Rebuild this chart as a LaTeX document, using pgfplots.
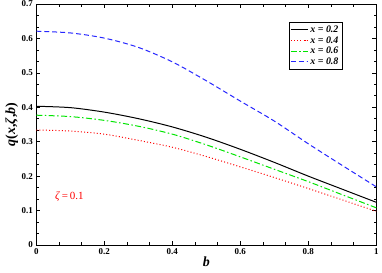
\documentclass[border=0pt]{standalone}
\usepackage{fontspec}
\setmainfont{Liberation Serif}
\usepackage{pgfplots}
\pgfplotsset{compat=1.18}
\usepackage{pgfplotstable}
\pgfplotstableread{
b q
0.0 0.403
0.1 0.399
0.2 0.386
0.3 0.367
0.4 0.343
0.5 0.313
0.6 0.278
0.7 0.240
0.8 0.200
0.9 0.162
1.0 0.124
}\xa
\pgfplotstableread{
b q
0.0 0.334
0.1 0.331
0.2 0.322
0.3 0.304
0.4 0.284
0.5 0.257
0.6 0.227
0.7 0.196
0.8 0.164
0.9 0.131
1.0 0.098
}\xb
\pgfplotstableread{
b q
0.0 0.377
0.1 0.373
0.2 0.362
0.3 0.345
0.4 0.322
0.5 0.291
0.6 0.256
0.7 0.220
0.8 0.184
0.9 0.146
1.0 0.108
}\xc
\pgfplotstableread{
b q
0.0 0.621
0.1 0.616
0.2 0.601
0.3 0.574
0.4 0.532
0.5 0.477
0.6 0.418
0.7 0.360
0.8 0.294
0.9 0.231
1.0 0.169
}\xd
\begin{document}
\begin{tikzpicture}
\useasboundingbox (-36.3bp,-28bp) rectangle (345.7bp,245bp);
\begin{axis}[
  at={(0,0)}, anchor=south west,
  scale only axis, width=340bp, height=241bp,
  xmin=0, xmax=1, ymin=0, ymax=0.7,
  xtick={0,0.2,...,1}, ytick={0,0.1,...,0.7},
  minor x tick num=2, minor y tick num=2,
  tick align=inside, major tick length=4bp, minor tick length=2.5bp,
  axis line style={line width=1pt},
  every tick/.style={black, line width=0.7pt},
  /pgf/number format/assume math mode=true,
  tick label style={font=\fontsize{9}{10}\selectfont\bfseries},
  xticklabels={0,0.2,0.4,0.6,0.8,1},
  yticklabels={0,0.1,0.2,0.3,0.4,0.5,0.6,0.7},
  xlabel={\textbf{\textit{b}}},
  ylabel={\textbf{\textit{q}(\textit{x},\textit{ζ},\textit{b})}},
  label style={font=\fontsize{14}{15}\selectfont},
  xlabel style={at={(axis description cs:0.5,-0.07)}, anchor=center},
  ylabel style={at={(axis description cs:-0.072,0.5)}, anchor=center},
  legend style={at={(0.9,0.925)}, anchor=north east, draw=black, line width=0.7pt,
    font=\fontsize{10}{11}\selectfont\bfseries\itshape, inner sep=1.5pt, row sep=-1.5pt},
  legend cell align=left,
]
\addplot[black, line width=1pt, smooth] table[x=b,y=q] {\xa};
\addlegendentry{x = 0.2}
\addplot[red, line width=1pt, dash pattern=on 1pt off 2.2pt, smooth] table[x=b,y=q] {\xb};
\addlegendentry{x = 0.4}
\addplot[green!90!black, line width=1pt, dash pattern=on 6pt off 2.5pt on 1.5pt off 2.5pt, smooth] table[x=b,y=q] {\xc};
\addlegendentry{x = 0.6}
\addplot[blue!85!white, line width=1pt, dash pattern=on 5pt off 3pt, smooth] table[x=b,y=q] {\xd};
\addlegendentry{x = 0.8}
\node[red, font=\fontsize{11}{12}\selectfont, anchor=west] at (axis cs:0.045,0.142) {\textit{ζ}\,=\,0.1};
\end{axis}
\end{tikzpicture}
\end{document}
